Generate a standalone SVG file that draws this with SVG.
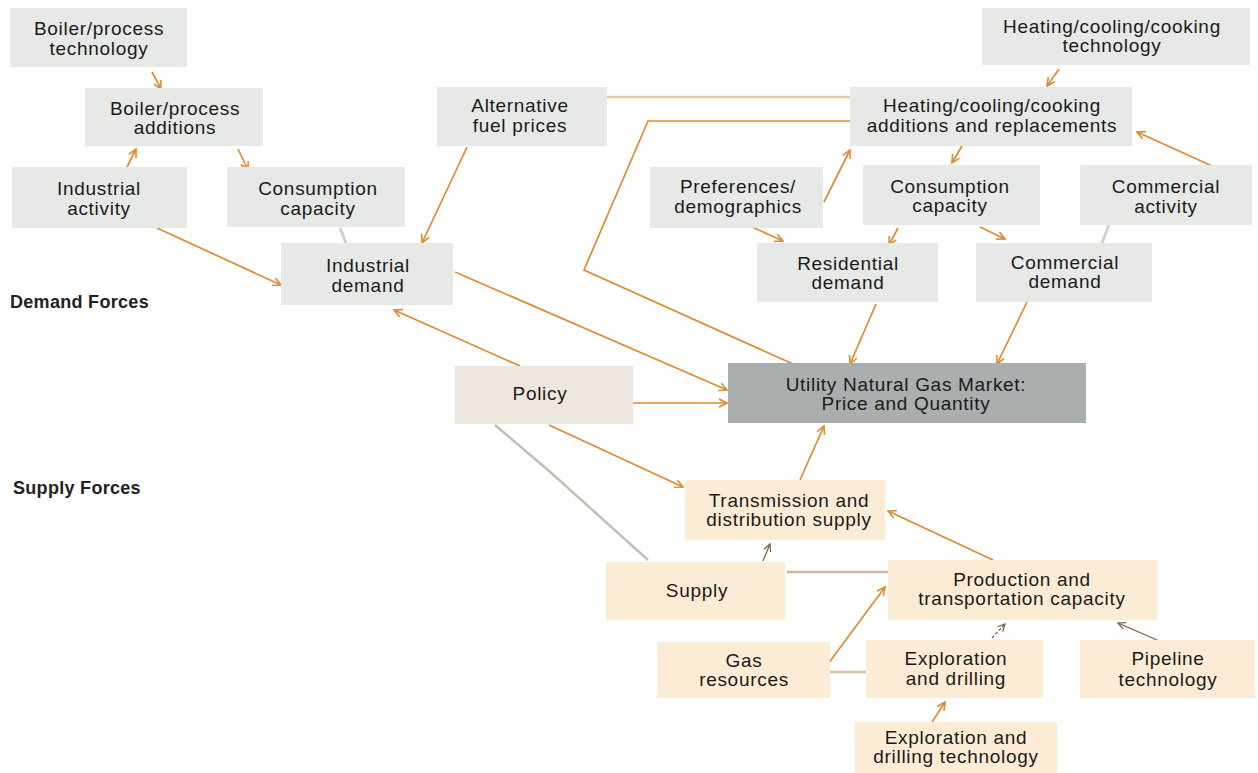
<svg xmlns="http://www.w3.org/2000/svg" width="1258" height="773" viewBox="0 0 1258 773">
<style>
.g{fill:#e7e9e7}
.p{fill:#fcecd6}
.pol{fill:#ece6dc}
.mk{fill:#a9aeae}
text{font-family:"Liberation Sans",Arial,sans-serif;font-size:19px;fill:#1a1a1a;text-anchor:middle;letter-spacing:0.7px}
.lbl{font-weight:bold;font-size:18px;text-anchor:start;letter-spacing:0.3px;fill:#222}
.c{fill:none;stroke:#e08a30;stroke-width:1.7}
.f{fill:none;stroke:#cfd3c6;stroke-width:3}
.d{fill:none;stroke:#7a5a44;stroke-width:1.2}
.a{marker-end:url(#ah)}
.ad{marker-end:url(#ahd)}
</style>
<defs>
<marker id="ah" viewBox="0 0 10 10" refX="9" refY="5" markerWidth="10" markerHeight="10" markerUnits="userSpaceOnUse" orient="auto">
<path d="M1,1 L9,5 L1,9" fill="none" stroke="#e08a30" stroke-width="1.6"/>
</marker>
<marker id="ahd" viewBox="0 0 10 10" refX="9" refY="5" markerWidth="9" markerHeight="9" markerUnits="userSpaceOnUse" orient="auto">
<path d="M1,1 L9,5 L1,9" fill="none" stroke="#7a5a44" stroke-width="1.3"/>
</marker>
</defs>
<rect width="1258" height="773" fill="#ffffff"/>

<g id="connectors">
<path class="c a" d="M152,72 L161,89"/>
<path class="c a" d="M127,167 L136,149"/>
<path class="c a" d="M238,149 L248,170"/>
<path class="f" d="M340,228 L346,243"/>
<path class="c a" d="M157,228 L281,285"/>
<path class="c a" d="M467,147 L422,243"/>
<path fill="none" stroke="#e2cda8" stroke-width="2.5" d="M607,97 L850,97"/>
<path class="c" stroke-width="1.5" d="M850,121 L648,121 L584,270 L793,364"/>
<path class="c a" d="M824,202 L850,150"/>
<path class="c a" d="M752,227 L783,241"/>
<path class="c a" d="M1059,69 L1047,86"/>
<path class="c a" d="M962,146 L952,163"/>
<path class="c a" d="M1212,166 L1137,132"/>
<path class="c a" d="M898,228 L889,245"/>
<path class="c a" d="M980,227 L1005,239"/>
<path class="f" d="M1110,222 L1102,243"/>
<path class="c a" d="M876,304 L850,364"/>
<path class="c a" d="M1027,302 L997,364"/>
<path class="c a" d="M455,272 L727,390"/>
<path class="c a" d="M520,366 L394,310"/>
<path class="c a" d="M633,403 L727,403"/>
<path class="c a" d="M549,425 L683,487"/>
<path fill="none" stroke="#bcc3b4" stroke-width="2.5" d="M495,425 L548,470 L648,560"/>
<path class="c a" d="M800,480 L824,426"/>
<path class="d ad" d="M763,561 L770,544"/>
<path class="c a" stroke-width="2" d="M993,560 L888,511"/>
<path fill="none" stroke="#cdb898" stroke-width="2.5" d="M888,572 L787,572"/>
<path class="c a" d="M828,664 L885,587"/>
<path fill="none" stroke="#cdc3a3" stroke-width="2.5" d="M830,672 L866,672"/>
<path class="d ad" stroke-dasharray="3,2" d="M992,638 L1005,624"/>
<path class="d ad" d="M1157,640 L1118,623"/>
<path class="c a" d="M932,722 L945,702"/>
</g>

<g id="n-boiler-tech"><rect class="g" x="10" y="8" width="177" height="59"/><text x="99" y="35">Boiler/process</text><text x="99" y="55">technology</text></g>
<g id="n-boiler-add"><rect class="g" x="85" y="88" width="178" height="58"/><text x="175" y="115">Boiler/process</text><text x="175" y="134">additions</text></g>
<g id="n-ind-activity"><rect class="g" x="12" y="167" width="175" height="61"/><text x="99" y="195">Industrial</text><text x="99" y="215">activity</text></g>
<g id="n-cons-cap-l"><rect class="g" x="227" y="167" width="178" height="60"/><text x="318" y="195">Consumption</text><text x="318" y="215">capacity</text></g>
<g id="n-ind-demand"><rect class="g" x="281" y="243" width="172" height="62"/><text x="368" y="272">Industrial</text><text x="368" y="292">demand</text></g>
<g id="n-alt-fuel"><rect class="g" x="437" y="87" width="170" height="59"/><text x="520" y="112">Alternative</text><text x="520" y="132">fuel prices</text></g>
<g id="n-hcc-tech"><rect class="g" x="982" y="8" width="268" height="57"/><text x="1112" y="33">Heating/cooling/cooking</text><text x="1112" y="52">technology</text></g>
<g id="n-hcc-add"><rect class="g" x="850" y="87" width="282" height="59"/><text x="992" y="112">Heating/cooling/cooking</text><text x="992" y="132">additions and replacements</text></g>
<g id="n-prefs"><rect class="g" x="650" y="167" width="173" height="61"/><text x="738" y="193">Preferences/</text><text x="738" y="213">demographics</text></g>
<g id="n-cons-cap-r"><rect class="g" x="863" y="165" width="177" height="60"/><text x="950" y="193">Consumption</text><text x="950" y="212">capacity</text></g>
<g id="n-comm-activity"><rect class="g" x="1080" y="165" width="172" height="60"/><text x="1166" y="193">Commercial</text><text x="1166" y="213">activity</text></g>
<g id="n-res-demand"><rect class="g" x="757" y="243" width="181" height="59"/><text x="848" y="270">Residential</text><text x="848" y="289">demand</text></g>
<g id="n-comm-demand"><rect class="g" x="976" y="243" width="176" height="59"/><text x="1065" y="269">Commercial</text><text x="1065" y="288">demand</text></g>
<g id="n-market"><rect class="mk" x="728" y="363" width="358" height="60"/><text x="906" y="391">Utility Natural Gas Market:</text><text x="906" y="410">Price and Quantity</text></g>
<g id="n-policy"><rect class="pol" x="455" y="366" width="178" height="58"/><text x="540" y="400">Policy</text></g>
<g id="n-transmission"><rect class="p" x="685" y="480" width="200" height="60"/><text x="789" y="507">Transmission and</text><text x="789" y="526">distribution supply</text></g>
<g id="n-supply"><rect class="p" x="606" y="562" width="179" height="58"/><text x="697" y="597">Supply</text></g>
<g id="n-production"><rect class="p" x="888" y="560" width="269" height="60"/><text x="1022" y="586">Production and</text><text x="1022" y="605">transportation capacity</text></g>
<g id="n-gas-res"><rect class="p" x="657" y="642" width="173" height="56"/><text x="744" y="667">Gas</text><text x="744" y="686">resources</text></g>
<g id="n-expl"><rect class="p" x="866" y="640" width="177" height="58"/><text x="956" y="665">Exploration</text><text x="956" y="685">and drilling</text></g>
<g id="n-pipeline"><rect class="p" x="1080" y="640" width="175" height="58"/><text x="1168" y="665">Pipeline</text><text x="1168" y="686">technology</text></g>
<g id="n-expl-tech"><rect class="p" x="855" y="722" width="202" height="51"/><text x="956" y="744">Exploration and</text><text x="956" y="763">drilling technology</text></g>

<g id="labels">
<text class="lbl" x="10" y="308">Demand Forces</text>
<text class="lbl" x="13" y="494">Supply Forces</text>
</g>
</svg>
